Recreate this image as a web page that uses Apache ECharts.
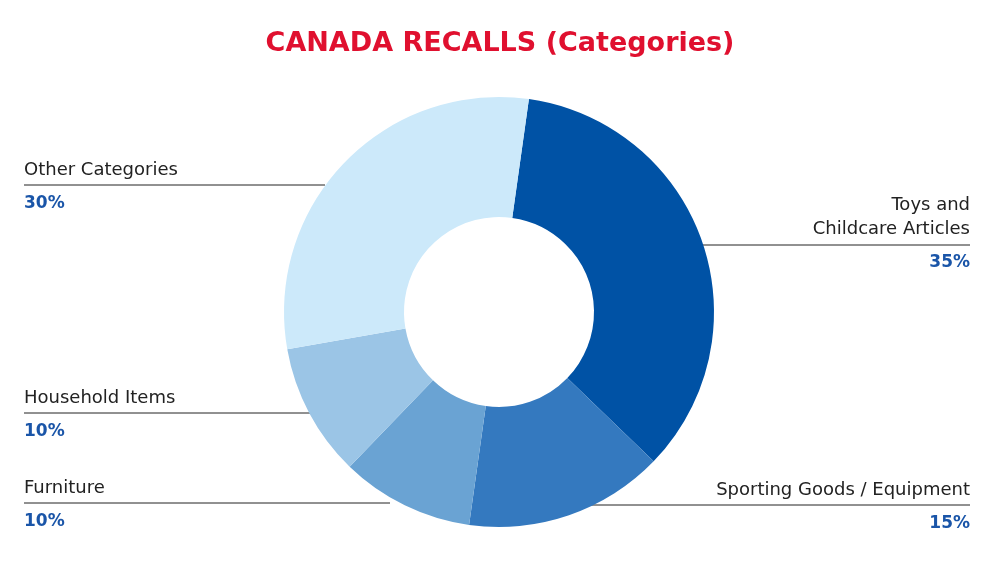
<!DOCTYPE html><html><head><meta charset="utf-8">
<script src="https://cdn.jsdelivr.net/npm/echarts@6/dist/echarts.min.js"></script>
<style>html,body{margin:0;background:#fff}#c{width:1000px;height:567px}</style></head><body><div id="c"></div>
<script>
const categories=["Toys and\nChildcare Articles","Sporting Goods / Equipment","Furniture","Household Items","Other Categories"];
const values=[35,15,10,10,30];
const colors=["#0052a5","#3479bf","#6aa3d3","#9bc5e6","#cce9fa"];
const L=[
 {x:970,y:193,align:'right',line:[[700,245],[700,245],[970,245]]},
 {x:970,y:478,align:'right',line:[[590,505],[590,505],[970,505]]},
 {x:24,y:476,align:'left',line:[[390,503],[390,503],[24,503]]},
 {x:24,y:386,align:'left',line:[[310,413],[310,413],[24,413]]},
 {x:24,y:158,align:'left',line:[[325,185],[325,185],[24,185]]}
];
const chart=echarts.init(document.getElementById('c'));
chart.setOption({
 title:{text:'CANADA RECALLS (Categories)',left:'center',top:25,textStyle:{color:'#e0102f',fontSize:27,fontWeight:'bold',fontFamily:'DejaVu Sans'}},
 series:[{type:'pie',center:[499,312],radius:[95,215],startAngle:82,clockwise:true,silent:true,
  data:categories.map((n,i)=>({name:n,value:values[i],itemStyle:{color:colors[i]}})),
  label:{formatter:p=>p.name.split('\n').map(s=>'{n|'+s+'}').join('\n')+'\n{p|'+p.value+'%}',
   rich:{n:{fontSize:18,color:'#222',lineHeight:24,fontFamily:'DejaVu Sans'},p:{fontSize:17,fontWeight:'bold',color:'#1a55a8',lineHeight:44,fontFamily:'DejaVu Sans'}}},
  labelLine:{show:true,lineStyle:{color:'#222',width:1}},
  labelLayout:p=>{const l=L[p.dataIndex];return {x:l.x,y:l.y,align:l.align,verticalAlign:'top',labelLinePoints:l.line};}
 }]
});
</script></body></html>
